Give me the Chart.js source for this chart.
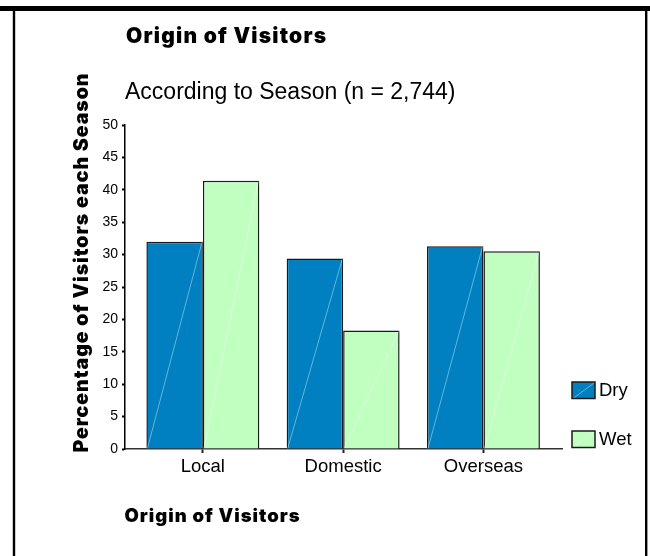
<!DOCTYPE html>
<html>
<head>
<meta charset="utf-8">
<title>Origin of Visitors</title>
<script src="https://cdn.jsdelivr.net/npm/chart.js@4/dist/chart.umd.min.js"></script>
<style>
  html, body { margin: 0; padding: 0; background: #fff; }
  canvas { display: block; }
</style>
</head>
<body>
<canvas id="chart" width="650" height="556"></canvas>
<script>
// Visitor origin shares (% of visitors in each season)
const categories = ['Local', 'Domestic', 'Overseas'];
const dryValues = [32.0, 29.4, 31.3];
const wetValues = [41.4, 18.3, 30.5];
const seriesNames = ['Dry', 'Wet'];
const yTickRange = { min: 0, max: 50, step: 5 };

const chartTitle = 'Origin of Visitors';
const chartSubtitle = 'According to Season (n = 2,744)';
const yAxisTitle = 'Percentage of Visitors each Season';
const xAxisTitle = 'Origin of Visitors';

const DRY_FILL = '#0080C0';
const WET_FILL = '#C0FFC0';
const EDGE = '#1a1a1a';
const HEAVY_FONT = 'Inter, "DejaVu Sans", sans-serif';
const PLAIN_FONT = '"Liberation Sans", Arial, sans-serif';

// Page frame: heavy rule across the top, thin rules down both sides
const framePlugin = {
  id: 'frame',
  beforeDraw(chart) {
    const ctx = chart.ctx;
    ctx.save();
    ctx.fillStyle = '#fff';
    ctx.fillRect(0, 0, chart.width, chart.height);
    ctx.fillStyle = '#000';
    ctx.fillRect(0, 6, chart.width, 5);
    ctx.fillRect(12.8, 11, 2.4, chart.height - 11);
    ctx.fillRect(645, 11, 2.4, chart.height - 11);
    ctx.restore();
  }
};

// Faint corner-to-corner highlight across each bar
const barDiagonalPlugin = {
  id: 'barDiagonals',
  afterDatasetsDraw(chart) {
    const ctx = chart.ctx;
    ctx.save();
    ctx.strokeStyle = 'rgba(255,255,255,0.4)';
    ctx.lineWidth = 1;
    chart.data.datasets.forEach((ds, di) => {
      chart.getDatasetMeta(di).data.forEach((bar) => {
        const { x, y, base, width } = bar.getProps(['x', 'y', 'base', 'width'], true);
        ctx.beginPath();
        ctx.moveTo(x - width / 2 + 1, base);
        ctx.lineTo(x + width / 2 - 1, y + 1);
        ctx.stroke();
      });
    });
    ctx.restore();
  }
};

// Series key stacked at the lower right
const sideLegendPlugin = {
  id: 'sideLegend',
  afterDraw(chart) {
    const ctx = chart.ctx;
    const left = chart.chartArea.right + 10;
    const top = 382;
    const w = 23, h = 16.5, pitch = 49;
    ctx.save();
    chart.data.datasets.forEach((ds, i) => {
      const y = top + i * pitch;
      ctx.fillStyle = ds.backgroundColor;
      ctx.fillRect(left, y, w, h);
      ctx.strokeStyle = 'rgba(255,255,255,0.4)';
      ctx.lineWidth = 1;
      ctx.beginPath();
      ctx.moveTo(left + 1, y + h);
      ctx.lineTo(left + w - 1, y + 1);
      ctx.stroke();
      ctx.strokeStyle = ds.borderColor;
      ctx.lineWidth = 1.5;
      ctx.strokeRect(left, y, w, h);
      ctx.fillStyle = '#000';
      ctx.font = '18.5px ' + PLAIN_FONT;
      ctx.textAlign = 'left';
      ctx.textBaseline = 'middle';
      ctx.fillText(ds.label, left + w + 4, y + h / 2 + 0.5);
    });
    ctx.restore();
  }
};

// Heavy captions: chart heading, category-axis caption and rotated value-axis caption
const captionPlugin = {
  id: 'captions',
  afterDraw(chart) {
    const ctx = chart.ctx;
    const area = chart.chartArea;
    ctx.save();
    ctx.fillStyle = '#000';
    ctx.textBaseline = 'alphabetic';

    ctx.textAlign = 'left';
    ctx.font = '900 21px ' + HEAVY_FONT;
    ctx.letterSpacing = '1.2px';
    ctx.fillText(chartTitle, area.left + 1, 42.7);

    ctx.font = '900 18.5px ' + HEAVY_FONT;
    ctx.letterSpacing = '1px';
    ctx.fillText(xAxisTitle, area.left - 0.5, 521.7);

    ctx.translate(88.3, 262.5);
    ctx.rotate(-Math.PI / 2);
    ctx.textAlign = 'center';
    ctx.font = '900 19.5px ' + HEAVY_FONT;
    ctx.letterSpacing = '0.95px';
    ctx.fillText(yAxisTitle, 0, 0);
    ctx.restore();
  }
};

const toPoints = (values) => values.map((v, i) => ({ x: i, y: v }));

new Chart(document.getElementById('chart'), {
  type: 'bar',
  data: {
    datasets: [
      {
        label: seriesNames[0],
        data: toPoints(dryValues),
        backgroundColor: DRY_FILL,
        borderColor: EDGE,
        borderWidth: 1.5,
        categoryPercentage: 0.805,
        barPercentage: 1.0
      },
      {
        label: seriesNames[1],
        data: toPoints(wetValues),
        backgroundColor: WET_FILL,
        borderColor: EDGE,
        borderWidth: 1.5,
        categoryPercentage: 0.805,
        barPercentage: 1.0
      }
    ]
  },
  options: {
    responsive: false,
    animation: false,
    devicePixelRatio: 1,
    layout: { padding: { top: 0, left: 0, right: 88, bottom: 0 } },
    plugins: {
      legend: { display: false },
      tooltip: { enabled: false },
      subtitle: {
        display: true,
        text: chartSubtitle,
        align: 'start',
        fullSize: false,
        color: '#000',
        font: { family: PLAIN_FONT, weight: 'normal', size: 23 },
        padding: { top: 78.9, bottom: 18.5 }
      }
    },
    scales: {
      x: {
        type: 'linear',
        position: 'bottom',
        bounds: 'data',
        offset: false,
        min: -0.555,
        max: 2.56,
        afterBuildTicks(scale) {
          scale.ticks = categories.map((_, i) => ({ value: i }));
        },
        afterFit(scale) { scale.height = 107; },
        ticks: {
          autoSkip: false,
          maxRotation: 0,
          padding: 3,
          color: '#000',
          font: { family: PLAIN_FONT, size: 18.5 },
          callback: (v) => categories[v]
        },
        grid: {
          offset: false,
          drawOnChartArea: false,
          drawTicks: true,
          tickLength: 4,
          tickWidth: 2,
          tickColor: '#222'
        },
        border: { display: true, color: '#333', width: 1.5 }
      },
      y: {
        min: yTickRange.min,
        max: yTickRange.max,
        afterFit(scale) { scale.width = 125; },
        ticks: {
          stepSize: yTickRange.step,
          padding: 4,
          color: '#000',
          font: { family: PLAIN_FONT, size: 14 }
        },
        grid: {
          drawOnChartArea: false,
          drawTicks: true,
          tickLength: 3,
          tickWidth: 2,
          tickColor: '#000'
        },
        border: { display: true, color: '#000', width: 1.5 }
      }
    }
  },
  plugins: [framePlugin, barDiagonalPlugin, sideLegendPlugin, captionPlugin]
});
</script>
</body>
</html>
